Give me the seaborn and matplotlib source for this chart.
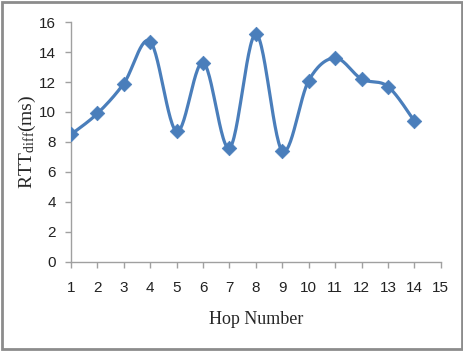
import numpy as np
import pandas as pd
import matplotlib
matplotlib.use("Agg")
import matplotlib.pyplot as plt
import seaborn as sns
from matplotlib.patches import Rectangle

hops = [1, 2, 3, 4, 5, 6, 7, 8, 9, 10, 11, 12, 13, 14]
rtt_diff = [8.5, 9.9, 11.9, 14.7, 8.7, 13.3, 7.6, 15.2, 7.4, 12.1, 13.6, 12.2, 11.7, 9.4]
x_ticks = list(range(1, 16))
y_ticks = [0, 2, 4, 6, 8, 10, 12, 14, 16]

sns.set_style("white")
plt.rcParams['font.family'] = ['Liberation Serif', 'DejaVu Serif']
plt.rcParams['mathtext.fontset'] = 'custom'
plt.rcParams['mathtext.rm'] = 'Liberation Serif'
plt.rcParams['mathtext.it'] = 'Liberation Serif'

def smooth(xs, ys, n=30):
    # Excel-style smoothed line (Catmull-Rom Bezier through points)
    xs = np.asarray(xs, float); ys = np.asarray(ys, float)
    px = np.concatenate([[xs[0]], xs, [xs[-1]]])
    py = np.concatenate([[ys[0]], ys, [ys[-1]]])
    ox, oy = [], []
    t = np.linspace(0, 1, n)
    for i in range(1, len(px) - 2):
        p0 = np.array([px[i], py[i]]); p3 = np.array([px[i + 1], py[i + 1]])
        p1 = p0 + (np.array([px[i + 1], py[i + 1]]) - np.array([px[i - 1], py[i - 1]])) / 6
        p2 = p3 - (np.array([px[i + 2], py[i + 2]]) - np.array([px[i], py[i]])) / 6
        b = ((1 - t) ** 3)[:, None] * p0 + (3 * (1 - t) ** 2 * t)[:, None] * p1 \
            + (3 * (1 - t) * t ** 2)[:, None] * p2 + (t ** 3)[:, None] * p3
        ox.extend(b[:, 0]); oy.extend(b[:, 1])
    return np.array(ox), np.array(oy)

sx, sy = smooth(hops, rtt_diff)
pts = pd.DataFrame({"Hop": hops, "RTT": rtt_diff})

fig = plt.figure(figsize=(4.64, 3.51), dpi=100)
ax = fig.add_axes([0.153, 0.2536, 0.797, 0.6837])
color = "#4A7EBB"
ax.plot(sx, sy, color=color, lw=2.3, solid_capstyle="round", zorder=2)
sns.scatterplot(data=pts, x="Hop", y="RTT", marker="D", s=55, color=color,
                edgecolor=color, linewidth=0.5, ax=ax, zorder=3)

ax.set_xlim(1, 15)
ax.set_ylim(0, 16)
ax.set_xticks(x_ticks)
ax.set_yticks(y_ticks)
tick_font = ['Liberation Sans Narrow', 'Liberation Sans', 'DejaVu Sans']
ax.set_xticklabels([str(v) for v in x_ticks], family=tick_font, fontsize=11, color="#222222")
ax.set_yticklabels([str(v) for v in y_ticks], family=tick_font, fontsize=11, color="#222222")
for s in ["top", "right"]:
    ax.spines[s].set_visible(False)
for s in ["left", "bottom"]:
    ax.spines[s].set_color("#A0A0A0")
    ax.spines[s].set_linewidth(1.0)
ax.tick_params(axis="both", which="major", direction="out", length=4, width=1,
               color="#A0A0A0", bottom=True, left=True)
ax.tick_params(axis="x", pad=10)
ax.tick_params(axis="y", pad=7)
ax.set_xlabel("Hop Number", fontsize=13, labelpad=11)
ax.set_ylabel(r"RTT$_{\rm diff}$(ms)", fontsize=14)
ax.yaxis.set_label_coords(-0.09, 0.5)
ax.patch.set_alpha(0)

fig.patches.append(Rectangle((0.004, 0.006), 0.992, 0.988, transform=fig.transFigure,
                             fill=False, edgecolor="#8C8C8C", linewidth=2.0))
fig.savefig("out.png", dpi=100)
